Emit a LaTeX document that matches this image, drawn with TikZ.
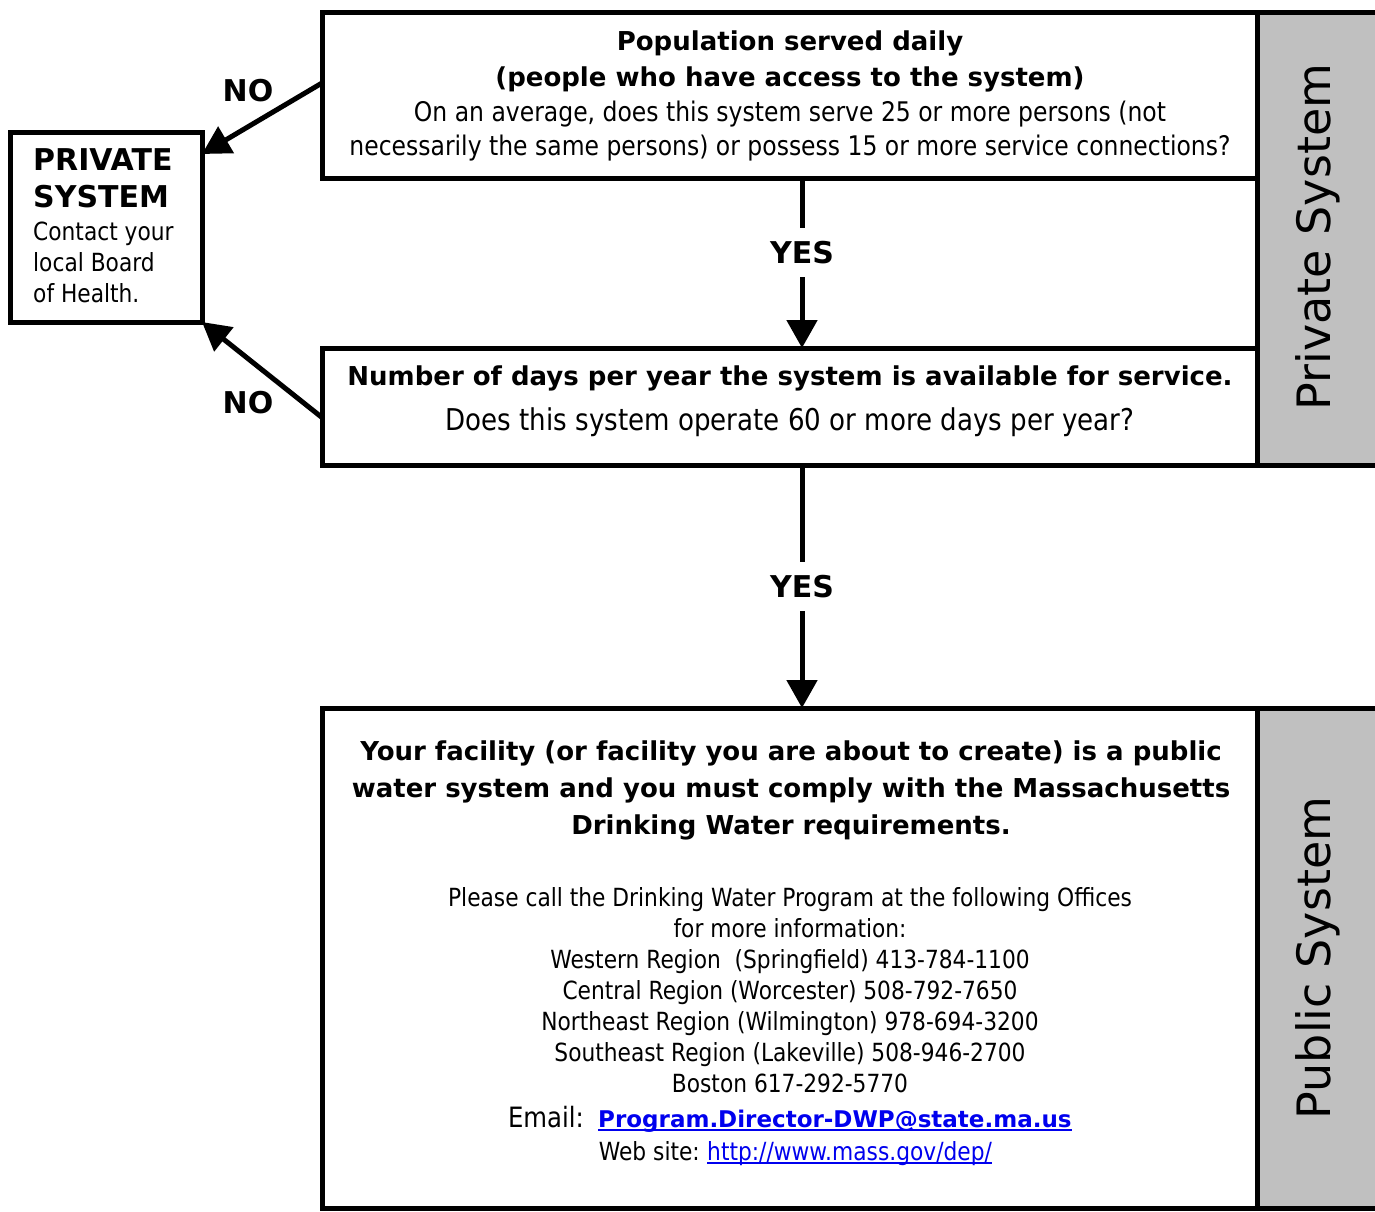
\documentclass[tikz,border=0pt]{standalone}
\usepackage{fontspec}
\setmainfont{DejaVu Sans}
\newfontfamily\cond{DejaVu Sans}[FakeStretch=0.87]
\usetikzlibrary{arrows.meta}
\definecolor{band}{RGB}{192,192,192}
\definecolor{linkblue}{RGB}{0,0,238}
\tikzset{
  box/.style={draw=black, line width=5pt, fill=white, outer sep=0pt, inner sep=0pt, anchor=north west},
  bandbox/.style={draw=black, line width=5pt, fill=band, outer sep=0pt, inner sep=0pt, anchor=north west},
  flow/.style={line width=5pt, -{Triangle[length=28pt,width=30pt]}},
  bt/.style={anchor=base, inner sep=0pt, font=\fontsize{26pt}{30pt}\selectfont\bfseries},
  rtA/.style={anchor=base, inner sep=0pt, font=\cond\fontsize{27pt}{30pt}\selectfont},
  rtB/.style={anchor=base, inner sep=0pt, font=\cond\fontsize{30pt}{34pt}\selectfont},
  rtC/.style={anchor=base, inner sep=0pt, font=\cond\fontsize{25pt}{30pt}\selectfont},
  ptitle/.style={anchor=base west, inner sep=0pt, font=\fontsize{30pt}{34pt}\selectfont\bfseries},
  ptext/.style={anchor=base west, inner sep=0pt, font=\cond\fontsize{25pt}{30pt}\selectfont},
  lbl/.style={inner sep=0pt, font=\fontsize{30pt}{34pt}\selectfont\bfseries},
  yes/.style={fill=white, inner xsep=4pt, inner ysep=13pt, font=\fontsize{30pt}{34pt}\selectfont\bfseries},
  side/.style={rotate=90, inner sep=0pt, font=\fontsize{46pt}{50pt}\selectfont},
  ulink/.style={draw=none, text=linkblue, inner sep=0pt, anchor=base west},
  uline/.style={draw=linkblue, line width=1.6pt},
}
\begin{document}
\begin{tikzpicture}[x=1pt,y=-1pt]
\useasboundingbox (0,0) rectangle (1375,1211);
\fill[white] (0,0) rectangle (1375,1211);

% gray side bands
\node[bandbox, minimum width=128pt, minimum height=453pt] (band1) at (1257,12) {};
\node[bandbox, minimum width=128pt, minimum height=500pt] (band2) at (1257,708) {};
\node[side] (side1) at (1318,237) {Private System};
\node[side] (side2) at (1318,958) {Public System};

% boxes
\node[box, minimum width=935pt, minimum height=166pt] (q1) at (322,12) {};
\node[box, minimum width=935pt, minimum height=117pt] (q2) at (322,348) {};
\node[box, minimum width=935pt, minimum height=500pt] (pub) at (322,708) {};
\node[box, minimum width=192pt, minimum height=190pt] (priv) at (10,132) {};

% top box text
\node[bt] (q1a) at (790,50) {Population served daily};
\node[bt] (q1b) at (790,86) {(people who have access to the system)};
\node[rtA] (q1c) at (790,121) {On an average, does this system serve 25 or more persons (not};
\node[rtA] (q1d) at (790,155) {necessarily the same persons) or possess 15 or more service connections?};

% middle box text
\node[bt] (q2a) at (790,385) {Number of days per year the system is available for service.};
\node[rtB] (q2b) at (790,430) {Does this system operate 60 or more days per year?};

% private box text
\node[ptitle] (pa) at (33,170) {PRIVATE};
\node[ptitle] (pb) at (33,207) {SYSTEM};
\node[ptext] (pc) at (33,240) {Contact your};
\node[ptext] (pd) at (33,271) {local Board};
\node[ptext] (pe) at (33,302) {of Health.};

% public box text
\node[bt] (ua) at (791,760) {Your facility (or facility you are about to create) is a public};
\node[bt] (ub) at (791,797) {water system and you must comply with the Massachusetts};
\node[bt] (uc) at (791,834) {Drinking Water requirements.};
\node[rtC] (ud) at (790,906) {Please call the Drinking Water Program at the following Offices};
\node[rtC] (ue) at (790,937) {for more information:};
\node[rtC] (uf) at (790,968) {Western Region\ \ (Springfield) 413-784-1100};
\node[rtC] (ug) at (790,999) {Central Region (Worcester) 508-792-7650};
\node[rtC] (uh) at (790,1030) {Northeast Region (Wilmington) 978-694-3200};
\node[rtC] (ui) at (790,1061) {Southeast Region (Lakeville) 508-946-2700};
\node[rtC] (uj) at (790,1092) {Boston 617-292-5770};

\node[ulink, font=\fontsize{23pt}{28pt}\selectfont\bfseries] (mail) at (598,1127) {Program.Director-DWP@state.ma.us};
\draw[uline] ([yshift=-3pt]mail.base west) -- ([yshift=-3pt]mail.base east);
\node[anchor=base east, inner sep=0pt, font=\cond\fontsize{28pt}{32pt}\selectfont] (maillbl) at ([xshift=-14pt]mail.base west) {Email:};

\node[ulink, font=\cond\fontsize{25pt}{30pt}\selectfont] (web) at (707,1160) {http://www.mass.gov/dep/};
\draw[uline] ([yshift=-3pt]web.base west) -- ([yshift=-3pt]web.base east);
\node[anchor=base east, inner sep=0pt, font=\cond\fontsize{25pt}{30pt}\selectfont] (weblbl) at ([xshift=-7pt]web.base west) {Web site:};

% connectors
\draw[flow] ([yshift=12pt]q1.west) -- ([yshift=-22pt]priv.north east);
\draw[flow] ([yshift=-11pt]q2.west) -- (priv.south east);
\draw[flow] ([xshift=12.5pt]q1.south) -- node[yes, pos=0.44] (yes1) {YES} ([xshift=12.5pt]q2.north);
\draw[flow] ([xshift=12.5pt]q2.south) -- node[yes] (yes2) {YES} ([xshift=12.5pt]pub.north);

% NO labels
\node[lbl] (no1) at (248,91) {NO};
\node[lbl] (no2) at (248,403) {NO};
\end{tikzpicture}
\end{document}
